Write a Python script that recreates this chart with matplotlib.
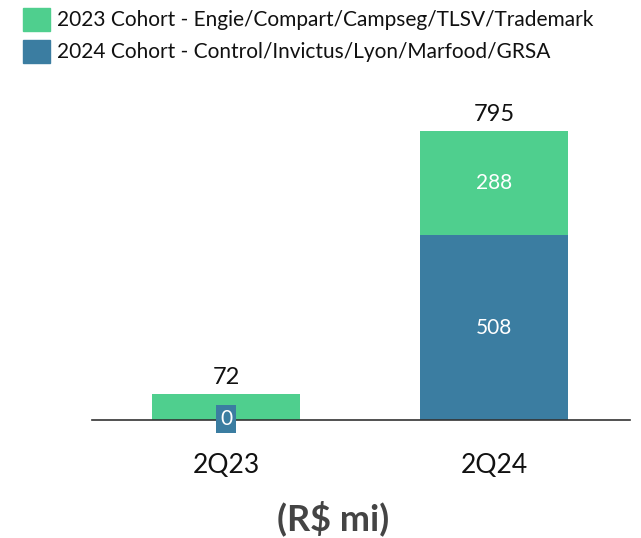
import matplotlib
matplotlib.use("Agg")
import matplotlib.pyplot as plt
from matplotlib.patches import Rectangle

categories = ["2Q23", "2Q24"]
cohort_2024 = [0, 508]
cohort_2023 = [72, 288]
totals = [72, 795]
legend_labels = ["2023 Cohort - Engie/Compart/Campseg/TLSV/Trademark",
                 "2024 Cohort - Control/Invictus/Lyon/Marfood/GRSA"]

GREEN = "#4FCF8E"
BLUE = "#3B7DA1"
FONT = "Lato"

W, H = 641, 538
fig = plt.figure(figsize=(W / 100, H / 100), dpi=100)
ax = fig.add_axes([92 / W, 118 / H, 538 / W, 327 / H])
x = list(range(len(categories)))
width = 0.552
ax.bar(x, cohort_2024, width, color=BLUE, zorder=2)
ax.bar(x, cohort_2023, width, bottom=cohort_2024, color=GREEN, zorder=2)
ax.set_xlim(-0.5, 1.507)
ax.set_ylim(0, 900)
for s in ["top", "right", "left"]:
    ax.spines[s].set_visible(False)
ax.spines["bottom"].set_color("#333333")
ax.spines["bottom"].set_linewidth(1.2)
ax.set_yticks([])
ax.set_xticks(x)
ax.set_xticklabels(categories, fontsize=19, family=FONT, color="#111111")
ax.tick_params(axis="x", length=0, pad=24)

for i in x:
    ax.text(i, totals[i] + 16, str(totals[i]), ha="center", va="bottom",
            fontsize=17, family=FONT, color="#111111")
    if cohort_2024[i] > 0:
        ax.text(i, cohort_2024[i] / 2, str(cohort_2024[i]), ha="center", va="center",
                fontsize=15, family=FONT, color="white")
        ax.text(i, cohort_2024[i] + cohort_2023[i] / 2, str(cohort_2023[i]), ha="center",
                va="center", fontsize=15, family=FONT, color="white")
    else:
        ax.text(i, 3, str(cohort_2024[i]), ha="center", va="center",
                fontsize=15, family=FONT, color="white", zorder=4,
                bbox=dict(boxstyle="square,pad=0.18", fc=BLUE, ec="none"))

# legend
for k, (lab, col) in enumerate(zip(legend_labels, [GREEN, BLUE])):
    y0 = 8 + 32 * k
    fig.patches.append(Rectangle((23 / W, 1 - (y0 + 23) / H), 27 / W, 23 / H,
                                 transform=fig.transFigure, color=col))
    fig.text(57 / W, 1 - (y0 + 11.5) / H, lab, ha="left", va="center",
             fontsize=15, family=FONT, color="#111111")

fig.text(333 / W, 1 - 518 / H, "(R$ mi)", ha="center", va="center",
         fontsize=26, family=FONT, fontweight="bold", color="#444444")

fig.savefig("out.png", dpi=100)
